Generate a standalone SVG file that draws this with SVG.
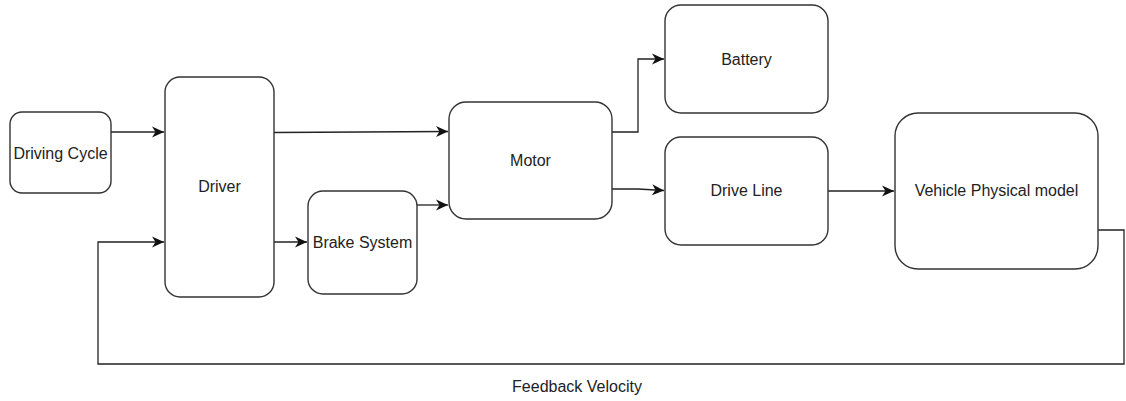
<svg xmlns="http://www.w3.org/2000/svg" width="1126" height="401" viewBox="0 0 1126 401">
<style>
.box{fill:#fff;stroke:#333;stroke-width:1.4}
.lbl{font-family:"Liberation Sans",Arial,sans-serif;font-size:16px;fill:#222;text-anchor:middle;dominant-baseline:central}
.edge{fill:none;stroke:#222;stroke-width:1.3}
</style>
<defs>
<marker id="arr" markerUnits="userSpaceOnUse" markerWidth="13" markerHeight="13" viewBox="0 0 13 13" refX="12" refY="6.5" orient="auto">
<path d="M0,1 L12,6.5 L0,12 L3.5,6.5 Z" fill="#111"/>
</marker>
</defs>
<rect width="1126" height="401" fill="#fff"/>
<g id="connectors">
<path class="edge" d="M111,132 L164,132" marker-end="url(#arr)"/>
<path class="edge" d="M274,132.5 L448,131.5" marker-end="url(#arr)"/>
<path class="edge" d="M274,242 L307,242" marker-end="url(#arr)"/>
<path class="edge" d="M417,205 L448,205" marker-end="url(#arr)"/>
<path class="edge" d="M612,132 L638,132 L638,59 L664,59" marker-end="url(#arr)"/>
<path class="edge" d="M612,189 L638,189 L664,190.5" marker-end="url(#arr)"/>
<path class="edge" d="M828,191 L894,191" marker-end="url(#arr)"/>
<path class="edge" d="M1098,230 L1124,230 L1124,364 L98,364 L98,242 L164,242" marker-end="url(#arr)"/>
<text class="lbl" x="577" y="386">Feedback Velocity</text>
</g>
<g id="driving-cycle"><rect class="box" x="10" y="112" width="101" height="81" rx="12"/><text class="lbl" x="60.5" y="153.5">Driving Cycle</text></g>
<g id="driver"><rect class="box" x="165" y="77" width="109" height="220" rx="15"/><text class="lbl" x="219.5" y="186">Driver</text></g>
<g id="brake-system"><rect class="box" x="308" y="191" width="109" height="103" rx="15"/><text class="lbl" x="362.5" y="242">Brake System</text></g>
<g id="motor"><rect class="box" x="449" y="102" width="163" height="117" rx="17"/><text class="lbl" x="530.5" y="160">Motor</text></g>
<g id="battery"><rect class="box" x="665" y="5" width="163" height="108" rx="16"/><text class="lbl" x="746.5" y="59">Battery</text></g>
<g id="drive-line"><rect class="box" x="665" y="137" width="163" height="108" rx="16"/><text class="lbl" x="746.5" y="190">Drive Line</text></g>
<g id="vehicle"><rect class="box" x="895" y="113" width="203" height="156" rx="23"/><text class="lbl" x="996.5" y="190">Vehicle Physical model</text></g>
</svg>
